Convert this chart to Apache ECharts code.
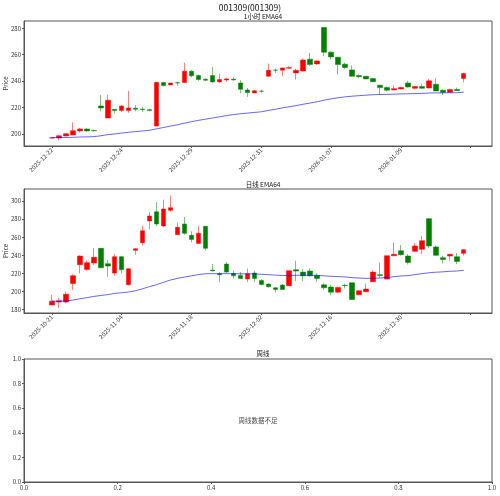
<!DOCTYPE html>
<html>
<head>
<meta charset="utf-8">
<script src="https://cdn.jsdelivr.net/npm/echarts@6/dist/echarts.min.js"></script>
<style>
  html, body { margin: 0; padding: 0; background: #fff; }
  #chart { width: 500px; height: 496px; }
</style>
</head>
<body>
<div id="chart"></div>
<script>
// 1小时 K线 (open, close, low, high)
var hourOpen  = [196.9,197.0,198.5,199.2,202.3,203.8,202.7,221.2,212.1,218.7,217.7,217.7,219.5,218.9,218.4,206.0,238.9,237.1,238.8,238.9,247.5,244.2,241.4,244.2,239.4,240.9,241.4,238.6,233.3,231.1,232.4,243.7,248.3,248.2,249.8,246.2,247.7,256.6,253.0,280.6,261.9,258.1,252.8,248.5,244.2,243.7,241.9,236.9,235.1,233.3,234.1,238.6,234.6,235.9,234.8,237.6,233.1,231.6,233.6,241.9];
var hourClose = [197.2,198.7,200.2,202.5,203.8,202.3,202.4,219.7,225.5,217.7,221.2,219.7,218.7,218.5,217.7,239.1,236.6,238.6,238.6,247.5,244.0,241.2,240.7,239.4,241.2,241.7,240.9,233.8,231.3,232.8,232.3,248.2,248.2,250.0,250.2,248.2,256.0,252.5,255.3,261.9,258.3,252.5,250.3,243.7,243.4,241.7,239.6,235.1,233.1,234.3,235.1,235.6,235.9,234.6,240.2,232.6,231.6,233.6,232.8,245.7];
var hourLow   = [196.5,195.2,198.2,199.0,201.0,201.8,201.8,217.2,212.1,215.4,216.6,216.0,217.2,216.7,217.2,206.0,235.8,237.1,236.4,238.9,242.9,240.2,239.9,238.9,238.6,239.6,240.6,230.8,228.0,231.0,231.1,243.4,246.2,243.7,249.2,241.2,247.0,251.5,252.5,258.8,256.3,245.2,249.3,243.7,242.2,241.4,239.1,230.0,232.1,233.1,233.8,235.1,233.8,234.3,234.6,232.3,229.5,231.3,232.6,239.1];
var hourHigh  = [197.6,199.2,200.6,208.8,204.5,204.2,203.3,229.5,229.8,218.9,221.7,232.6,221.7,220.7,219.2,239.1,239.4,238.6,239.6,254.0,248.5,245.0,242.2,250.5,245.7,242.7,242.9,240.6,234.8,233.1,233.6,253.3,249.5,250.3,251.3,249.5,256.9,261.4,255.6,281.1,262.6,258.3,254.0,251.8,244.9,244.0,242.4,237.1,235.8,236.9,235.4,240.2,236.4,237.9,241.7,242.2,233.8,234.3,235.1,246.2];
var hourEma   = [197.2,197.3,197.3,197.5,197.7,197.8,198.0,198.6,199.5,200.0,200.7,201.3,201.8,202.3,202.8,203.9,204.9,206.0,207.0,208.2,209.3,210.3,211.2,212.1,213.0,213.9,214.7,215.3,215.8,216.3,216.8,217.8,218.7,219.7,220.6,221.5,222.5,223.4,224.4,225.6,226.6,227.4,228.1,228.6,229.0,229.4,229.7,229.9,230.0,230.1,230.3,230.4,230.6,230.7,231.0,231.1,231.1,231.2,231.2,231.7];
var hourTickLabels = ['2025-12-22','2025-12-24','2025-12-29','2025-12-31','2026-01-07','2026-01-09',''];

// 日线 K线
var dayOpen  = [185.1,188.5,188.4,209.0,229.6,224.5,231.5,247.7,230.8,220.4,238.5,207.5,245.5,254.0,277.9,288.2,272.4,289.7,262.8,274.6,262.1,253.2,272.0,223.8,219.7,230.4,220.1,217.9,213.8,220.4,212.3,208.3,204.2,207.2,206.4,224.1,221.5,222.7,217.9,207.5,205.0,199.4,206.9,209.8,196.5,199.8,210.9,218.6,213.8,239.6,245.1,239.2,244.4,246.6,280.5,249.2,237.4,239.2,238.5,242.2];
var dayClose = [189.5,189.8,197.2,217.5,239.2,231.9,237.8,226.3,228.2,238.5,224.1,225.2,247.3,267.2,283.4,274.6,291.2,292.6,270.9,264.3,257.6,264.3,247.7,223.0,218.6,221.5,217.5,214.5,219.7,214.5,207.9,205.3,202.4,202.4,223.0,222.7,217.5,217.5,214.5,204.2,199.4,204.6,206.7,191.3,200.9,202.8,221.5,217.9,239.6,241.1,240.7,232.2,250.3,256.2,250.3,240.0,235.5,241.1,233.3,246.2];
var dayLow   = [185.0,181.8,187.0,202.0,220.1,223.0,229.0,226.3,216.4,217.5,220.1,206.8,240.7,250.6,268.7,272.4,271.3,287.8,262.8,262.8,254.3,253.2,245.5,222.2,210.5,220.8,214.5,213.8,210.5,210.8,206.8,204.6,199.0,202.0,206.4,211.6,211.6,216.4,210.8,201.7,196.1,198.3,203.5,191.0,195.8,199.8,210.9,215.0,213.8,238.9,239.6,229.9,244.0,241.4,248.0,239.6,231.1,234.1,230.4,239.6];
var dayHigh  = [196.5,192.8,200.2,219.3,240.0,234.1,248.0,248.0,234.8,241.4,239.6,225.9,247.9,272.4,287.8,298.9,301.5,305.9,276.4,282.3,266.5,272.4,272.0,230.4,221.9,232.6,223.4,221.5,225.6,222.7,213.8,209.0,205.0,208.3,223.4,234.1,224.9,225.6,220.1,209.0,207.5,205.3,209.0,209.8,201.7,209.0,223.4,232.2,239.6,254.3,251.4,241.4,253.6,261.3,281.2,250.7,239.6,241.8,242.6,246.9];
var dayEma   = [189.5,189.5,189.8,190.6,192.1,193.3,194.7,195.7,196.7,198.0,198.8,199.6,201.0,203.1,205.6,207.7,210.3,212.8,214.6,216.1,217.4,218.8,219.7,219.8,219.8,219.8,219.8,219.6,219.6,219.4,219.1,218.7,218.2,217.7,217.8,218.0,218.0,218.0,217.9,217.4,216.9,216.5,216.2,215.4,215.0,214.6,214.8,214.9,215.7,216.5,217.2,217.7,218.7,219.8,220.8,221.4,221.8,222.4,222.7,223.5];
var dayTickLabels = ['2025-10-21','2025-11-04','2025-11-18','2025-12-02','2025-12-16','2025-12-30',''];

var xTicks = [0, 10, 20, 30, 40, 50, 60];
var hourYTicks = [200, 220, 240, 260, 280];
var dayYTicks = [180, 200, 220, 240, 260, 280, 300];
var weekNote = '周线数据不足';

var FONT = 'Noto Sans CJK SC';
var frameColor = '#555';
var tickFont = 6;

function candles(o, c, l, h) {
  return o.map(function (v, i) { return [i, v, c[i], l[i], h[i]]; });
}
function line(arr) {
  return arr.map(function (v, i) { return [i, v]; });
}

function dateAxis(gridIndex, labels) {
  return {
    type: 'value', gridIndex: gridIndex, min: -4, max: 63.05,
    axisLine: { show: true, onZero: false, lineStyle: { color: frameColor, width: 1 } },
    axisTick: { show: true, customValues: xTicks, length: 2, lineStyle: { color: frameColor } },
    axisLabel: {
      customValues: xTicks, rotate: 45, fontSize: tickFont, color: '#333', margin: 3,
      formatter: function (v) { return labels[Math.round(v / 10)] || ''; }
    },
    splitLine: { show: false }
  };
}
function priceAxis(gridIndex, min, max, ticks) {
  return {
    type: 'value', gridIndex: gridIndex, min: min, max: max,
    name: 'Price', nameLocation: 'middle', nameGap: 15, nameRotate: 90, nameMoveOverlap: false,
    nameTextStyle: { fontSize: 6, color: '#333' },
    axisLine: { show: true, onZero: false, lineStyle: { color: frameColor, width: 1 } },
    axisTick: { show: true, customValues: ticks, length: 2, lineStyle: { color: frameColor } },
    axisLabel: { customValues: ticks, fontSize: tickFont, color: '#333', margin: 3 },
    splitLine: { show: false }
  };
}
function unitAxis(gridIndex) {
  return {
    type: 'value', gridIndex: gridIndex, min: 0, max: 1, interval: 0.2,
    axisLine: { show: true, onZero: false, lineStyle: { color: frameColor, width: 1 } },
    axisTick: { show: true, length: 2, lineStyle: { color: frameColor } },
    axisLabel: { fontSize: tickFont, color: '#333', margin: 3, formatter: function (v) { return v.toFixed(1); } },
    splitLine: { show: false }
  };
}

var candleStyle = {
  color: '#ff0000', color0: '#008000',
  borderColor: 'rgba(255,0,0,0.5)', borderColor0: 'rgba(0,128,0,0.5)',
  borderWidth: 1
};
var emaStyle = { color: 'rgba(0,0,255,0.6)', width: 1 };
var titleStyle = { fontSize: 6.5, fontWeight: 'normal', color: '#111', fontFamily: FONT };

var chart = echarts.init(document.getElementById('chart'), null, { renderer: 'canvas' });
chart.setOption({
  animation: false,
  backgroundColor: '#fff',
  textStyle: { fontFamily: FONT },
  title: [
    { text: '001309(001309)', left: 'center', top: -1, textStyle: { fontSize: 8.5, fontWeight: 'normal', color: '#111', fontFamily: FONT } },
    { text: '1小时 EMA64', left: 258, textAlign: 'center', top: 8, textStyle: titleStyle },
    { text: '日线 EMA64', left: 258, textAlign: 'center', top: 176, textStyle: titleStyle },
    { text: '周线', left: 258, textAlign: 'center', top: 345, textStyle: titleStyle }
  ],
  grid: [
    { left: 24, top: 21, width: 468, height: 125, show: true, borderColor: frameColor, borderWidth: 1, outerBoundsMode: 'none' },
    { left: 24, top: 189, width: 468, height: 124, show: true, borderColor: frameColor, borderWidth: 1, outerBoundsMode: 'none' },
    { left: 24, top: 359, width: 468, height: 123, show: true, borderColor: frameColor, borderWidth: 1, outerBoundsMode: 'none' }
  ],
  xAxis: [dateAxis(0, hourTickLabels), dateAxis(1, dayTickLabels), unitAxis(2)],
  yAxis: [priceAxis(0, 190.9, 285.5, hourYTicks), priceAxis(1, 176.4, 313.2, dayYTicks), unitAxis(2)],
  series: [
    {
      type: 'candlestick', xAxisIndex: 0, yAxisIndex: 0, barWidth: 5,
      encode: { x: 0, y: [1, 2, 3, 4] },
      itemStyle: candleStyle, data: candles(hourOpen, hourClose, hourLow, hourHigh)
    },
    {
      type: 'line', xAxisIndex: 0, yAxisIndex: 0, showSymbol: false, z: 5,
      lineStyle: emaStyle, data: line(hourEma)
    },
    {
      type: 'candlestick', xAxisIndex: 1, yAxisIndex: 1, barWidth: 5,
      encode: { x: 0, y: [1, 2, 3, 4] },
      itemStyle: candleStyle, data: candles(dayOpen, dayClose, dayLow, dayHigh)
    },
    {
      type: 'line', xAxisIndex: 1, yAxisIndex: 1, showSymbol: false, z: 5,
      lineStyle: emaStyle, data: line(dayEma)
    },
    {
      type: 'scatter', xAxisIndex: 2, yAxisIndex: 2, symbolSize: 0,
      label: { show: true, position: 'inside', formatter: weekNote, fontSize: 6.5, color: '#111', fontFamily: FONT },
      data: [[0.5, 0.5]]
    }
  ]
});
</script>
</body>
</html>
